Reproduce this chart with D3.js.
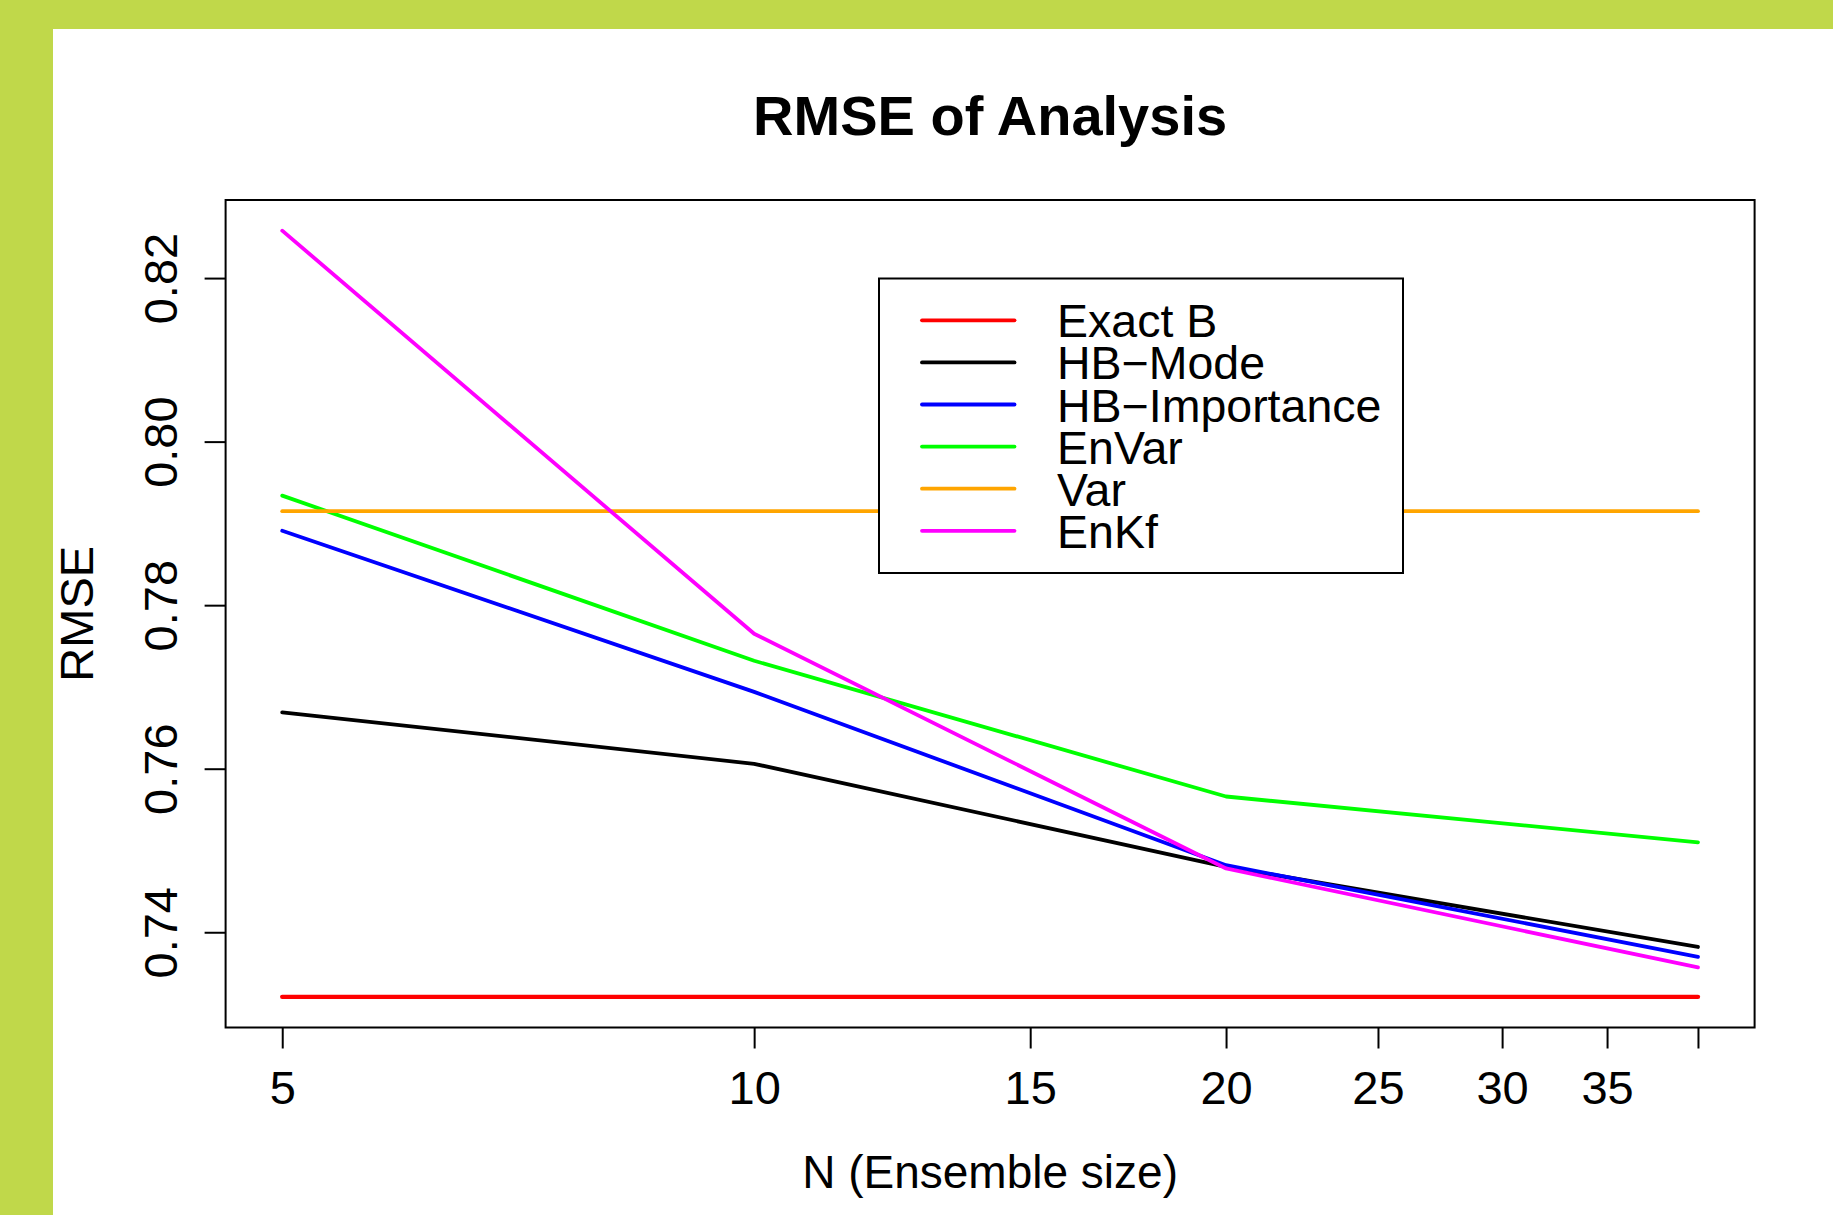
<!DOCTYPE html>
<html>
<head>
<meta charset="utf-8">
<script src="https://cdn.jsdelivr.net/npm/d3@7"></script>
<style>
  html, body { margin: 0; padding: 0; background: #ffffff; }
  svg { display: block; }
  text { font-family: "Liberation Sans", Arial, Helvetica, sans-serif; fill: #000; }
</style>
</head>
<body>
<div id="data-viz"></div>
<script>

// ensemble sizes on the x axis
var sizes = [5, 10, 20, 40]

// RMSE of analysis, one array per method
var exactB       = [0.7321, 0.7321, 0.7321, 0.7321]
var hbMode       = [0.7669, 0.7606, 0.7480, 0.7382]
var hbImportance = [0.7891, 0.7694, 0.7482, 0.7370]
var enVar        = [0.7934, 0.7732, 0.7566, 0.7510]
var varMethod    = [0.7915, 0.7915, 0.7915, 0.7915]
var enKf         = [0.8258, 0.7765, 0.7478, 0.7357]

var seriesNames  = ["Exact B", "HB\u2212Mode", "HB\u2212Importance", "EnVar", "Var", "EnKf"]
var seriesColors = ["#ff0000", "#000000", "#0000ff", "#00ff00", "#ffa500", "#ff00ff"]

var xTicks = [5, 10, 15, 20, 25, 30, 35, 40]
var xTickLabels = ["5", "10", "15", "20", "25", "30", "35", ""]
var yTicks = [0.74, 0.76, 0.78, 0.80, 0.82]

var series = [exactB, hbMode, hbImportance, enVar, varMethod, enKf].map(function(values, i) {
    return { name: seriesNames[i], colour: seriesColors[i], values: values }
})

var width = 1833,
    height = 1215

var plot = { left: 225.6, right: 1754.6, top: 200, bottom: 1027.5 }

var svg = d3.select("#data-viz").append("svg")
    .attr("width", width)
    .attr("height", height)

// green frame (top and left)
svg.append("rect").attr("x", 0).attr("y", 0).attr("width", width).attr("height", 29).attr("fill", "#c0d84a")
svg.append("rect").attr("x", 0).attr("y", 0).attr("width", 53).attr("height", height).attr("fill", "#c0d84a")

// R-style 4% padding of the data range
var lx0 = Math.log(d3.min(sizes)), lx1 = Math.log(d3.max(sizes))
var px = 0.04 * (lx1 - lx0)

var x = d3.scaleLog()
    .domain([Math.exp(lx0 - px), Math.exp(lx1 + px)])
    .range([plot.left, plot.right])

var allValues = d3.merge(series.map(function(s) { return s.values }))
var y0 = d3.min(allValues), y1 = d3.max(allValues)
var py = 0.04 * (y1 - y0)

var y = d3.scaleLinear()
    .domain([y0 - py, y1 + py])
    .range([plot.bottom, plot.top])

// title
svg.append("text")
    .attr("x", (plot.left + plot.right) / 2)
    .attr("y", 135)
    .attr("text-anchor", "middle")
    .style("font-size", "56px")
    .style("font-weight", "bold")
    .text("RMSE of Analysis")

// x axis
var xAxis = svg.append("g")
    .attr("transform", "translate(0," + plot.bottom + ")")
    .call(d3.axisBottom(x)
        .tickValues(xTicks)
        .tickFormat(function(d, i) { return xTickLabels[i] })
        .tickSize(21)
        .tickSizeOuter(0)
        .tickPadding(0))

xAxis.select(".domain").remove()
xAxis.selectAll(".tick line").attr("stroke", "#000").attr("stroke-width", 2)
xAxis.selectAll(".tick text")
    .attr("y", 76)
    .attr("dy", 0)
    .style("font-size", "47px")
    .style("font-family", "'Liberation Sans', Arial, sans-serif")

// y axis
var yAxis = svg.append("g")
    .attr("transform", "translate(" + plot.left + ",0)")
    .call(d3.axisLeft(y)
        .tickValues(yTicks)
        .tickFormat(d3.format(".2f"))
        .tickSize(21)
        .tickSizeOuter(0))

yAxis.select(".domain").remove()
yAxis.selectAll(".tick line").attr("stroke", "#000").attr("stroke-width", 2)
yAxis.selectAll(".tick text")
    .attr("x", 0)
    .attr("dy", 0)
    .attr("text-anchor", "middle")
    .attr("transform", "translate(-49,0) rotate(-90)")
    .style("font-size", "47px")
    .style("font-family", "'Liberation Sans', Arial, sans-serif")

// axis titles
svg.append("text")
    .attr("x", (plot.left + plot.right) / 2)
    .attr("y", 1188)
    .attr("text-anchor", "middle")
    .style("font-size", "46px")
    .text("N (Ensemble size)")

svg.append("text")
    .attr("transform", "translate(93," + ((plot.top + plot.bottom) / 2) + ") rotate(-90)")
    .attr("text-anchor", "middle")
    .style("font-size", "47px")
    .text("RMSE")

// lines
var line = d3.line()
    .x(function(d, i) { return x(sizes[i]) })
    .y(function(d) { return y(d) })

svg.append("g").selectAll("path")
    .data(series)
    .enter().append("path")
    .attr("d", function(s) { return line(s.values) })
    .attr("fill", "none")
    .attr("stroke", function(s) { return s.colour })
    .attr("stroke-width", function(s, i) { return i === 0 ? 4.4 : 3.8 })
    .attr("stroke-linejoin", "round")
    .attr("stroke-linecap", "round")

// legend
var legend = { left: 879, top: 278.5, right: 1403, bottom: 573, firstRow: 320.3, rowGap: 42.1 }

var lg = svg.append("g")

lg.append("rect")
    .attr("x", legend.left)
    .attr("y", legend.top)
    .attr("width", legend.right - legend.left)
    .attr("height", legend.bottom - legend.top)
    .attr("fill", "#fff")
    .attr("stroke", "#000")
    .attr("stroke-width", 2)

var rows = lg.selectAll("g.row")
    .data(series)
    .enter().append("g")
    .attr("class", "row")
    .attr("transform", function(d, i) { return "translate(0," + (legend.firstRow + i * legend.rowGap) + ")" })

rows.append("line")
    .attr("x1", 922).attr("x2", 1014.5)
    .attr("y1", 0).attr("y2", 0)
    .attr("stroke", function(s) { return s.colour })
    .attr("stroke-width", 3.8)
    .attr("stroke-linecap", "round")

rows.append("text")
    .attr("x", 1057)
    .attr("y", 17)
    .style("font-size", "46.5px")
    .text(function(s) { return s.name })

// plot box
svg.append("rect")
    .attr("x", plot.left)
    .attr("y", plot.top)
    .attr("width", plot.right - plot.left)
    .attr("height", plot.bottom - plot.top)
    .attr("fill", "none")
    .attr("stroke", "#000")
    .attr("stroke-width", 2)

</script>
</body>
</html>
